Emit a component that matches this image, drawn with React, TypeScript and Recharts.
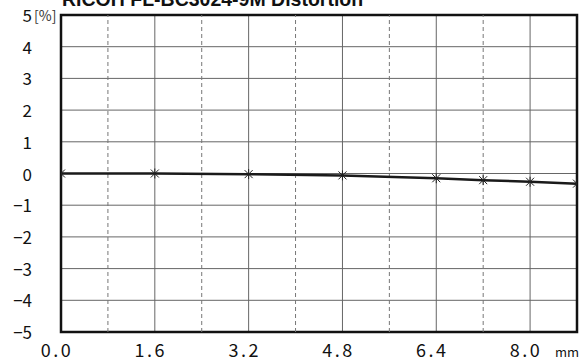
import { LineChart, Line, XAxis, YAxis, CartesianGrid, ReferenceLine, ReferenceArea } from 'recharts'

const imageHeight = [0, 1.6, 3.2, 4.8, 6.4, 7.2, 8.0, 8.8]
const distortion = [0, 0, -0.02, -0.06, -0.15, -0.21, -0.26, -0.32]
const xTicks = [0, 1.6, 3.2, 4.8, 6.4, 8.0]
const xDashed = [0.8, 2.4, 4.0, 5.6, 7.2]
const yTicks = [-5, -4, -3, -2, -1, 0, 1, 2, 3, 4, 5]

const data = imageHeight.map((x, i) => ({ x, d: distortion[i] }))

const FONT = "'Noto Sans CJK JP', 'Noto Sans', sans-serif"

const XTick = ({ x, y, payload }: any) => (
  <g>
    <text x={x - 4} y={y + 17} textAnchor="middle" fontSize={18} letterSpacing={2.5} fontFamily={FONT} fill="#111">
      {payload.value.toFixed(1)}
    </text>
    {payload.value === 8 && (
      <text x={x + 25} y={y + 17} textAnchor="start" fontSize={13} fontFamily={FONT} fill="#111">mm</text>
    )}
  </g>
)

const YTick = ({ x, y, payload }: any) => (
  <g>
    <text x={x - 21} y={y + 7} textAnchor="end" fontSize={17} fontFamily={FONT} fill="#111">
      {payload.value < 0 ? `−${-payload.value}` : payload.value}
    </text>
    {payload.value === 5 && (
      <text x={x - 19} y={y + 6} textAnchor="start" fontSize={14} fontFamily={FONT} fill="#333">[%]</text>
    )}
  </g>
)

const Cross = ({ cx, cy, index }: any) => (
  <g key={index} stroke="#222" strokeWidth={1}>
    <line x1={cx - 4} y1={cy - 4} x2={cx + 4} y2={cy + 4} />
    <line x1={cx - 4} y1={cy + 4} x2={cx + 4} y2={cy - 4} />
    <line x1={cx} y1={cy - 5} x2={cx} y2={cy + 5} />
  </g>
)

export default function App() {
  return (
    <div style={{ position: 'absolute', left: 0, top: 0, width: 580, height: 363 }}>
      <LineChart width={580} height={363} data={data} margin={{ top: 15, right: 3, left: 0, bottom: 0 }}>
        <CartesianGrid stroke="#666" strokeWidth={1} />
        {xDashed.map((v) => (
          <ReferenceLine key={v} x={v} stroke="#777" strokeDasharray="4 3" />
        ))}
        <XAxis type="number" dataKey="x" domain={[0, 8.8]} ticks={xTicks} allowDataOverflow
          axisLine={false} tickLine={false} height={31} tick={<XTick />} interval={0} />
        <YAxis type="number" domain={[-5, 5]} ticks={yTicks} allowDataOverflow
          axisLine={false} tickLine={false} width={61} tick={<YTick />} interval={0} />
        <Line type="linear" dataKey="d" stroke="#1a1a1a" strokeWidth={2.5} dot={<Cross />}
          activeDot={false} isAnimationActive={false} />
        <ReferenceArea x1={0} x2={8.8} y1={-5} y2={5} fill="none" fillOpacity={0}
          stroke="#111" strokeWidth={2.5} ifOverflow="visible" />
      </LineChart>
      <svg width={580} height={363} style={{ position: 'absolute', left: 0, top: 0, pointerEvents: 'none' }}>
        <text x={62} y={6} fontSize={19.5} fontWeight="bold" fontFamily="'Liberation Sans', Arial, sans-serif" fill="#111">
          RICOH FL-BC3024-9M Distortion
        </text>
      </svg>
    </div>
  )
}
